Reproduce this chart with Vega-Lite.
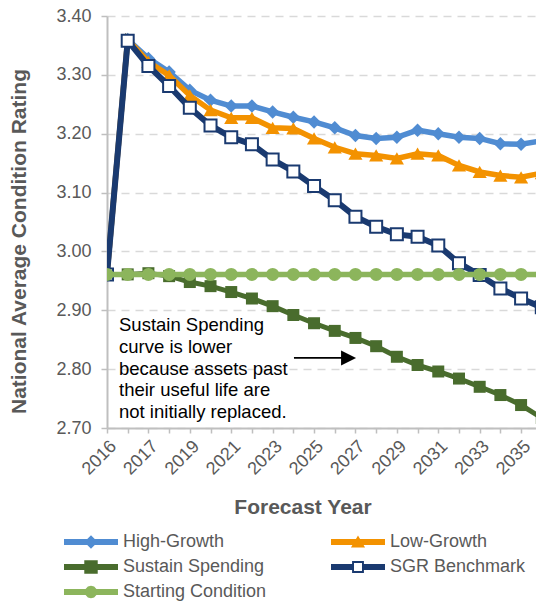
{
  "$schema": "https://vega.github.io/schema/vega-lite/v6.json",
  "width": 429,
  "height": 412,
  "autosize": {"type": "none"},
  "padding": {"left": 107, "top": 16, "right": 0, "bottom": 175},
  "background": "white",
  "config": {"view": {"stroke": null}, "font": "Liberation Sans"},
  "data": {"values": [
    {"t":0,"series":"High-Growth","value":2.961},{"t":1,"series":"High-Growth","value":3.36},{"t":2,"series":"High-Growth","value":3.328},{"t":3,"series":"High-Growth","value":3.305},{"t":4,"series":"High-Growth","value":3.274},{"t":5,"series":"High-Growth","value":3.257},{"t":6,"series":"High-Growth","value":3.247},{"t":7,"series":"High-Growth","value":3.247},{"t":8,"series":"High-Growth","value":3.237},{"t":9,"series":"High-Growth","value":3.228},{"t":10,"series":"High-Growth","value":3.22},{"t":11,"series":"High-Growth","value":3.21},{"t":12,"series":"High-Growth","value":3.197},{"t":13,"series":"High-Growth","value":3.192},{"t":14,"series":"High-Growth","value":3.194},{"t":15,"series":"High-Growth","value":3.206},{"t":16,"series":"High-Growth","value":3.2},{"t":17,"series":"High-Growth","value":3.194},{"t":18,"series":"High-Growth","value":3.192},{"t":19,"series":"High-Growth","value":3.183},{"t":20,"series":"High-Growth","value":3.182},{"t":21,"series":"High-Growth","value":3.188},
    {"t":0,"series":"Low-Growth","value":2.961},{"t":1,"series":"Low-Growth","value":3.36},{"t":2,"series":"Low-Growth","value":3.322},{"t":3,"series":"Low-Growth","value":3.299},{"t":4,"series":"Low-Growth","value":3.265},{"t":5,"series":"Low-Growth","value":3.24},{"t":6,"series":"Low-Growth","value":3.227},{"t":7,"series":"Low-Growth","value":3.227},{"t":8,"series":"Low-Growth","value":3.21},{"t":9,"series":"Low-Growth","value":3.209},{"t":10,"series":"Low-Growth","value":3.192},{"t":11,"series":"Low-Growth","value":3.177},{"t":12,"series":"Low-Growth","value":3.166},{"t":13,"series":"Low-Growth","value":3.163},{"t":14,"series":"Low-Growth","value":3.158},{"t":15,"series":"Low-Growth","value":3.166},{"t":16,"series":"Low-Growth","value":3.163},{"t":17,"series":"Low-Growth","value":3.146},{"t":18,"series":"Low-Growth","value":3.135},{"t":19,"series":"Low-Growth","value":3.129},{"t":20,"series":"Low-Growth","value":3.126},{"t":21,"series":"Low-Growth","value":3.133},
    {"t":0,"series":"Sustain Spending","value":2.961},{"t":1,"series":"Sustain Spending","value":2.961},{"t":2,"series":"Sustain Spending","value":2.963},{"t":3,"series":"Sustain Spending","value":2.958},{"t":4,"series":"Sustain Spending","value":2.948},{"t":5,"series":"Sustain Spending","value":2.941},{"t":6,"series":"Sustain Spending","value":2.931},{"t":7,"series":"Sustain Spending","value":2.92},{"t":8,"series":"Sustain Spending","value":2.907},{"t":9,"series":"Sustain Spending","value":2.892},{"t":10,"series":"Sustain Spending","value":2.878},{"t":11,"series":"Sustain Spending","value":2.865},{"t":12,"series":"Sustain Spending","value":2.853},{"t":13,"series":"Sustain Spending","value":2.839},{"t":14,"series":"Sustain Spending","value":2.821},{"t":15,"series":"Sustain Spending","value":2.807},{"t":16,"series":"Sustain Spending","value":2.796},{"t":17,"series":"Sustain Spending","value":2.784},{"t":18,"series":"Sustain Spending","value":2.77},{"t":19,"series":"Sustain Spending","value":2.756},{"t":20,"series":"Sustain Spending","value":2.739},{"t":21,"series":"Sustain Spending","value":2.717},
    {"t":0,"series":"SGR Benchmark","value":2.961},{"t":1,"series":"SGR Benchmark","value":3.358},{"t":2,"series":"SGR Benchmark","value":3.315},{"t":3,"series":"SGR Benchmark","value":3.281},{"t":4,"series":"SGR Benchmark","value":3.244},{"t":5,"series":"SGR Benchmark","value":3.214},{"t":6,"series":"SGR Benchmark","value":3.194},{"t":7,"series":"SGR Benchmark","value":3.182},{"t":8,"series":"SGR Benchmark","value":3.156},{"t":9,"series":"SGR Benchmark","value":3.136},{"t":10,"series":"SGR Benchmark","value":3.111},{"t":11,"series":"SGR Benchmark","value":3.087},{"t":12,"series":"SGR Benchmark","value":3.059},{"t":13,"series":"SGR Benchmark","value":3.042},{"t":14,"series":"SGR Benchmark","value":3.029},{"t":15,"series":"SGR Benchmark","value":3.025},{"t":16,"series":"SGR Benchmark","value":3.01},{"t":17,"series":"SGR Benchmark","value":2.98},{"t":18,"series":"SGR Benchmark","value":2.96},{"t":19,"series":"SGR Benchmark","value":2.937},{"t":20,"series":"SGR Benchmark","value":2.92},{"t":21,"series":"SGR Benchmark","value":2.905},
    {"t":0,"series":"Starting Condition","value":2.961},{"t":1,"series":"Starting Condition","value":2.961},{"t":2,"series":"Starting Condition","value":2.961},{"t":3,"series":"Starting Condition","value":2.961},{"t":4,"series":"Starting Condition","value":2.961},{"t":5,"series":"Starting Condition","value":2.961},{"t":6,"series":"Starting Condition","value":2.961},{"t":7,"series":"Starting Condition","value":2.961},{"t":8,"series":"Starting Condition","value":2.961},{"t":9,"series":"Starting Condition","value":2.961},{"t":10,"series":"Starting Condition","value":2.961},{"t":11,"series":"Starting Condition","value":2.961},{"t":12,"series":"Starting Condition","value":2.961},{"t":13,"series":"Starting Condition","value":2.961},{"t":14,"series":"Starting Condition","value":2.961},{"t":15,"series":"Starting Condition","value":2.961},{"t":16,"series":"Starting Condition","value":2.961},{"t":17,"series":"Starting Condition","value":2.961},{"t":18,"series":"Starting Condition","value":2.961},{"t":19,"series":"Starting Condition","value":2.961},{"t":20,"series":"Starting Condition","value":2.961},{"t":21,"series":"Starting Condition","value":2.961}
  ]},
  "encoding": {
    "x": {
      "field": "t", "type": "quantitative",
      "scale": {"domain": [0, 20.72], "nice": false, "zero": false},
      "axis": {
        "title": "Forecast Year",
        "values": [0,1,2,3,4,5,6,7,8,9,10,11,12,13,14,15,16,17,18,19,20],
        "labelExpr": "datum.value == 0 ? '2016' : (datum.value % 2 == 0 ? '' + (2015 + datum.value) : '')",
        "labelAngle": -45, "labelFontSize": 18, "labelColor": "#595959",
        "labelFlush": false, "labelOverlap": false, "labelPadding": 4,
        "tickSize": 5, "tickColor": "#BFBFBF", "tickWidth": 1.5,
        "domainColor": "#BFBFBF", "domainWidth": 2, "grid": false,
        "titleFontSize": 21, "titleFontWeight": "bold", "titleColor": "#595959",
        "titleX": 195.5, "titleY": 85, "titleBaseline": "alphabetic", "titleAlign": "center"
      }
    },
    "y": {
      "field": "value", "type": "quantitative",
      "scale": {"domain": [2.7, 3.4], "nice": false, "zero": false},
      "axis": {
        "title": "National Average Condition Rating",
        "values": [2.7, 2.8, 2.9, 3.0, 3.1, 3.2, 3.3, 3.4],
        "format": ".2f", "labelFontSize": 18, "labelColor": "#595959", "labelPadding": 10,
        "tickSize": 6, "tickColor": "#BFBFBF", "tickWidth": 1.5,
        "domainColor": "#BFBFBF", "domainWidth": 2,
        "grid": true, "gridColor": "#D9D9D9", "gridDash": [8, 6], "gridWidth": 1.5,
        "titleFontSize": 21, "titleFontWeight": "bold", "titleColor": "#595959",
        "titleX": -82, "titleY": 225, "titleBaseline": "alphabetic", "titleAlign": "center"
      }
    }
  },
  "layer": [
    {"transform": [{"filter": "datum.series == 'High-Growth'"}],
     "mark": {"type": "line", "color": "#508CD2", "strokeWidth": 5.5, "clip": true}},
    {"transform": [{"filter": "datum.series == 'High-Growth'"}],
     "mark": {"type": "point", "shape": "diamond", "filled": true, "color": "#508CD2", "size": 180, "opacity": 1, "clip": true}},
    {"transform": [{"filter": "datum.series == 'Low-Growth'"}],
     "mark": {"type": "line", "color": "#F39200", "strokeWidth": 5.5, "clip": true}},
    {"transform": [{"filter": "datum.series == 'Low-Growth'"}],
     "mark": {"type": "point", "shape": "triangle-up", "filled": true, "color": "#F39200", "size": 200, "opacity": 1, "clip": true}},
    {"transform": [{"filter": "datum.series == 'Sustain Spending'"}],
     "mark": {"type": "line", "color": "#496C2D", "strokeWidth": 5, "clip": true}},
    {"transform": [{"filter": "datum.series == 'Sustain Spending'"}],
     "mark": {"type": "point", "shape": "square", "filled": true, "color": "#496C2D", "size": 144, "opacity": 1, "clip": true}},
    {"transform": [{"filter": "datum.series == 'SGR Benchmark'"}],
     "mark": {"type": "line", "color": "#1A3A70", "strokeWidth": 6, "clip": true}},
    {"transform": [{"filter": "datum.series == 'SGR Benchmark'"}],
     "mark": {"type": "point", "shape": "square", "filled": true, "fill": "#FFFFFF", "stroke": "#1A3A70", "strokeWidth": 2, "size": 144, "opacity": 1, "clip": true}},
    {"transform": [{"filter": "datum.series == 'Starting Condition'"}],
     "mark": {"type": "line", "color": "#8CB55C", "strokeWidth": 5.5, "clip": true}},
    {"transform": [{"filter": "datum.series == 'Starting Condition'"}],
     "mark": {"type": "point", "shape": "circle", "filled": true, "color": "#8CB55C", "size": 169, "opacity": 1, "clip": true}},
    {"mark": {"type": "point", "filled": true, "opacity": 0, "clip": true},
     "encoding": {
       "color": {"field": "series", "type": "nominal",
         "scale": {"domain": ["High-Growth", "Sustain Spending", "Starting Condition", "Low-Growth", "SGR Benchmark"],
                   "range": ["#508CD2", "#496C2D", "#8CB55C", "#F39200", "#1A3A70"]},
         "legend": {"title": null, "orient": "none", "legendX": -43, "legendY": 510, "columns": 2, "columnPadding": 64, "rowPadding": 0, "symbolSize": 1024, "symbolOffset": 0, "symbolStrokeWidth": 0, "symbolOpacity": 1, "labelFontSize": 18, "labelColor": "#595959", "labelOffset": 27, "padding": 0, "labelLimit": 300}},
       "shape": {"field": "series", "type": "nominal",
         "scale": {"domain": ["High-Growth", "Sustain Spending", "Starting Condition", "Low-Growth", "SGR Benchmark"],
                   "range": [
                     "M-1,-0.19L2.375,-0.19L2.375,0.19L-1,0.19Z M0.6875,-0.42L1.1075,0L0.6875,0.42L0.2675,0Z",
                     "M-1,-0.19L2.375,-0.19L2.375,0.19L-1,0.19Z M0.2675,-0.42L1.1075,-0.42L1.1075,0.42L0.2675,0.42Z",
                     "M-1,-0.19L2.375,-0.19L2.375,0.19L-1,0.19Z M1.0775,0L1.0255,0.195L0.8825,0.338L0.6875,0.39L0.4925,0.338L0.3495,0.195L0.2975,0L0.3495,-0.195L0.4925,-0.338L0.6875,-0.39L0.8825,-0.338L1.0255,-0.195Z",
                     "M-1,-0.19L2.375,-0.19L2.375,0.19L-1,0.19Z M0.6875,-0.41L1.1275,0.34L0.2475,0.34Z",
                     "M-1,-0.19L0.3175,-0.19L0.3175,0.19L-1,0.19Z M1.0575,-0.19L2.375,-0.19L2.375,0.19L1.0575,0.19Z M0.3175,-0.37L1.0575,-0.37L1.0575,0.37L0.3175,0.37Z M0.4375,-0.25L0.4375,0.25L0.9375,0.25L0.9375,-0.25Z"
                   ]},
         "legend": {"title": null, "orient": "none", "legendX": -43, "legendY": 510, "columns": 2, "columnPadding": 64, "rowPadding": 0, "symbolSize": 1024, "symbolOffset": 0, "symbolStrokeWidth": 0, "symbolOpacity": 1, "labelFontSize": 18, "labelColor": "#595959", "labelOffset": 27, "padding": 0, "labelLimit": 300}}
     }},
    {"data": {"values": [{"t": 0.58, "value": 2.8745, "note": "Sustain Spending\ncurve is lower\nbecause assets past\ntheir useful life are\nnot initially replaced."}]},
     "mark": {"type": "text", "align": "left", "baseline": "middle", "lineBreak": "\n", "fontSize": 18.5, "lineHeight": 21.7, "color": "#000000"},
     "encoding": {"text": {"field": "note"}}},
    {"data": {"values": [{"t": 9.03, "t2": 11.35, "value": 2.819}]},
     "mark": {"type": "rule", "color": "#000000", "strokeWidth": 1.8},
     "encoding": {"x2": {"field": "t2"}}},
    {"data": {"values": [{"t": 11.667, "value": 2.819}]},
     "mark": {"type": "point", "shape": "M-1,-1L1,0L-1,1Z", "filled": true, "color": "#000000", "size": 225, "opacity": 1}}
  ]
}
